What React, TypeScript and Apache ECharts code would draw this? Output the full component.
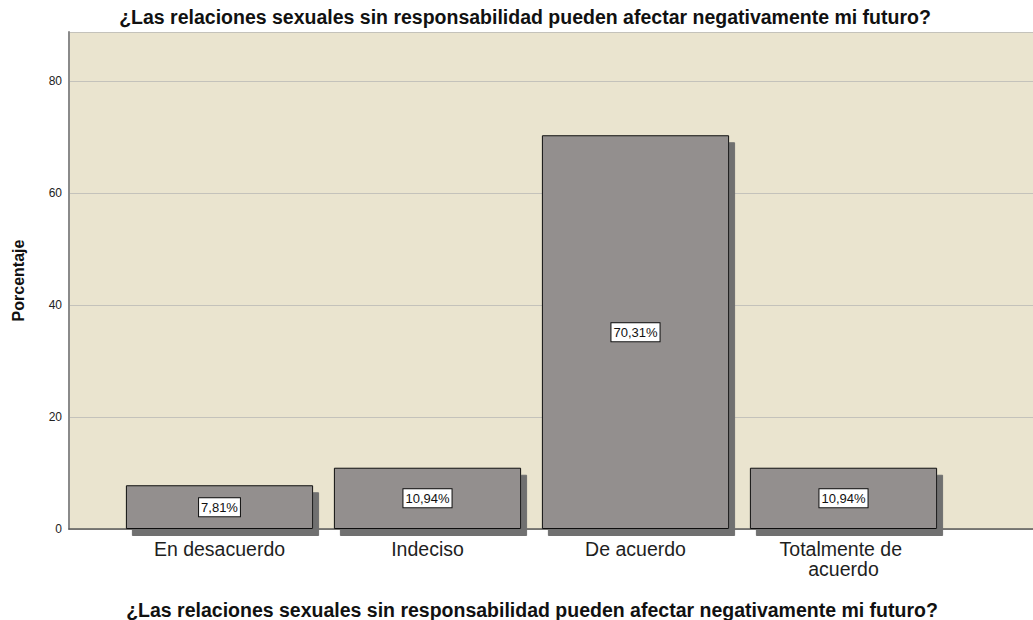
import React, { useEffect, useRef } from "react";
import * as echarts from "echarts";

const questionText =
  "¿Las relaciones sexuales sin responsabilidad pueden afectar negativamente mi futuro?";
const categories = ["En desacuerdo", "Indeciso", "De acuerdo", "Totalmente de acuerdo"];
const percentages = [7.81, 10.94, 70.31, 10.94];
const yTicks = [0, 20, 40, 60, 80];

const FONT = "'Liberation Sans', Arial, sans-serif";

export default function App() {
  const ref = useRef<HTMLDivElement>(null);

  useEffect(() => {
    if (!ref.current) return;
    const chart = echarts.init(ref.current, undefined, { renderer: "svg" });
    const yMax = 88.75;

    chart.setOption({
      animation: false,
      backgroundColor: "#ffffff",
      title: [
        {
          text: questionText,
          left: 520,
          top: 2,
          textAlign: "center",
          textStyle: { fontFamily: FONT, fontSize: 19.5, fontWeight: "bold", color: "#111" },
        },
        {
          text: questionText,
          left: 527,
          top: 595,
          textAlign: "center",
          textStyle: { fontFamily: FONT, fontSize: 19.5, fontWeight: "bold", color: "#111" },
        },
      ],
      grid: [
        {
          left: 69,
          right: 0,
          top: 32,
          bottom: 91,
          show: true,
          backgroundColor: "#EAE4CF",
          borderWidth: 0,
        },
        { left: 115.5, right: 85.5, top: 32, bottom: 91 },
      ],
      xAxis: [
        {
          gridIndex: 0,
          type: "value",
          min: 0,
          max: 1,
          axisLine: { show: true, onZero: false, lineStyle: { color: "#5a5a5a", width: 1.5 } },
          axisTick: { show: false },
          axisLabel: { show: false },
          splitLine: { show: false },
        },
        {
          gridIndex: 1,
          type: "category",
          data: categories,
          axisLine: { show: false },
          axisTick: { show: false },
          axisLabel: {
            interval: 0,
            margin: 10,
            fontFamily: FONT,
            fontSize: 19.5,
            lineHeight: 20,
            color: "#1e1e1e",
            width: 160,
            overflow: "break",
          },
        },
      ],
      yAxis: [
        {
          gridIndex: 0,
          type: "value",
          min: 0,
          max: yMax,
          interval: 20,
          name: "Porcentaje",
          nameLocation: "middle",
          nameGap: 43,
          nameTextStyle: { fontFamily: FONT, fontSize: 16, fontWeight: "bold", color: "#111" },
          axisLine: { show: true, lineStyle: { color: "#8a8a8a", width: 2 } },
          axisTick: { show: false },
          axisLabel: {
            margin: 7,
            fontFamily: FONT,
            fontSize: 12,
            color: "#222",
            showMaxLabel: false,
            formatter: (v: number) => (yTicks.includes(v) ? String(v) : ""),
          },
          splitLine: { show: true, lineStyle: { color: "#c4c2bb", width: 1 } },
        },
        {
          gridIndex: 1,
          type: "value",
          min: 0,
          max: yMax,
          show: false,
          splitLine: { show: false },
        },
      ],
      series: [
        {
          type: "bar",
          xAxisIndex: 1,
          yAxisIndex: 1,
          data: percentages,
          barWidth: "90%",
          itemStyle: {
            color: "#938F8E",
            borderColor: "#111",
            borderWidth: 1,
            shadowColor: "#6f6f6f",
            shadowBlur: 0,
            shadowOffsetX: 6,
            shadowOffsetY: 7,
          },
          label: {
            show: true,
            position: "inside",
            formatter: (p: any) => p.value.toFixed(2).replace(".", ",") + "%",
            fontFamily: FONT,
            fontSize: 13,
            color: "#111",
            backgroundColor: "#ffffff",
            borderColor: "#111",
            borderWidth: 1,
            padding: [3, 2, 2, 2],
          },
        },
      ],
    });

    return () => chart.dispose();
  }, []);

  return (
    <div
      ref={ref}
      style={{ position: "fixed", left: 0, top: 0, width: 1033, height: 620 }}
    />
  );
}
